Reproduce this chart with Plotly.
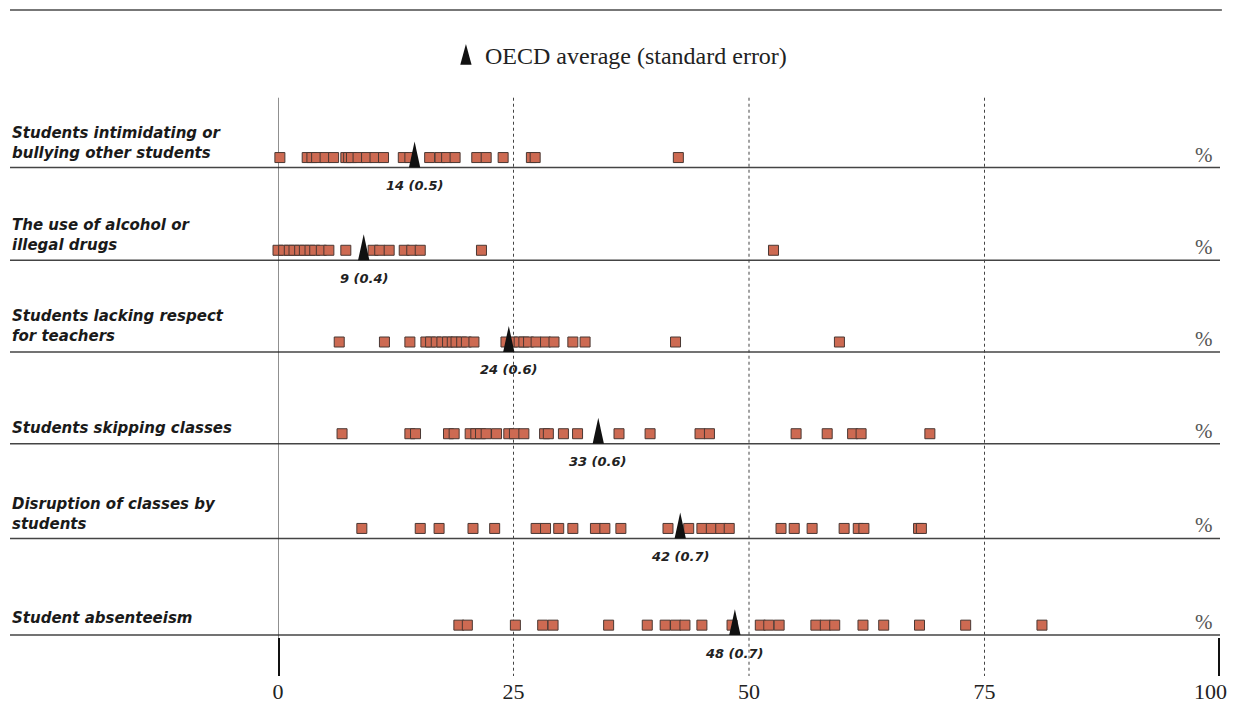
import plotly.graph_objects as go

# Share of students in schools whose principal reports the problem hinders learning
CATEGORIES = [
    "Students intimidating or<br>bullying other students",
    "The use of alcohol or<br>illegal drugs",
    "Students lacking respect<br>for teachers",
    "Students skipping classes",
    "Disruption of classes by<br>students",
    "Student absenteeism",
]

BULLYING = [0.2, 3.1, 3.6, 4.1, 5.0, 5.9, 7.2, 7.5, 7.8, 8.5, 9.4, 10.3, 11.2,
            13.3, 14.0, 16.1, 17.2, 17.9, 18.8, 21.1, 22.1, 23.9, 26.9, 27.3, 42.5]
DRUGS = [0.0, 0.6, 1.2, 1.7, 2.3, 2.8, 3.4, 3.9, 4.6, 5.4, 7.2, 10.1, 10.8,
         11.8, 13.4, 14.2, 15.1, 21.6, 52.6]
RESPECT = [6.5, 11.3, 14.0, 15.7, 16.2, 16.8, 17.4, 18.0, 18.5, 18.9, 19.5,
           20.0, 20.8, 24.2, 24.9, 25.6, 26.1, 26.6, 27.4, 28.4, 29.3, 31.3,
           32.6, 42.2, 59.6]
SKIPPING = [6.8, 14.0, 14.6, 18.1, 18.7, 20.4, 21.0, 21.5, 22.1, 23.2, 24.5,
            25.1, 26.1, 28.3, 28.7, 30.3, 31.8, 36.2, 39.5, 44.8, 45.8, 55.0,
            58.3, 61.0, 61.9, 69.2]
DISRUPTION = [8.9, 15.1, 17.1, 20.7, 23.0, 27.4, 28.4, 29.8, 31.3, 33.7, 34.7,
              36.4, 41.4, 43.6, 45.0, 46.0, 47.0, 47.9, 53.4, 54.8, 56.7, 60.1,
              61.6, 62.2, 68.0, 68.3]
ABSENTEEISM = [19.2, 20.1, 25.2, 28.1, 29.2, 35.1, 39.2, 41.1, 42.2, 43.2, 45.0,
               48.2, 51.2, 52.1, 53.2, 57.1, 58.1, 59.1, 62.1, 64.3, 68.1, 73.0,
               81.1]

SERIES = [BULLYING, DRUGS, RESPECT, SKIPPING, DISRUPTION, ABSENTEEISM]
OECD_AVG = [14.5, 9.1, 24.5, 34.0, 42.7, 48.5]
OECD_TEXT = ["14 (0.5)", "9 (0.4)", "24 (0.6)", "33 (0.6)", "42 (0.7)", "48 (0.7)"]
X_TICKS = [0, 25, 50, 75, 100]

# layout: y axis runs in page pixels (top = 0); the page body adds an 8px offset
ROW_LINE_Y = [168, 261, 353, 445, 540, 637]
LABEL_Y = [143, 236, 327, 429, 516, 620]
SQUARE_FILL = "#cd6a52"
SQUARE_EDGE = "#4a3833"
SERIF = "Liberation Serif"
SANS = "DejaVu Sans"
LEFT_EDGE = (10 - 278) / 942

fig = go.Figure()

for values, base in zip(SERIES, ROW_LINE_Y):
    fig.add_trace(go.Scatter(
        x=values, y=[base - 10] * len(values), mode="markers",
        marker=dict(symbol="square", size=10, color=SQUARE_FILL,
                    line=dict(color=SQUARE_EDGE, width=1)),
        cliponaxis=False, showlegend=False, hoverinfo="x",
    ))

# tall narrow triangles for the OECD average
for avg, base in zip(OECD_AVG, ROW_LINE_Y):
    fig.add_trace(go.Scatter(
        x=[avg - 0.6, avg, avg + 0.6, avg - 0.6],
        y=[base, base - 26, base, base],
        mode="lines", fill="toself", fillcolor="#111111",
        line=dict(width=0, color="#111111"),
        cliponaxis=False, showlegend=False, hoverinfo="skip",
    ))

shapes = []
# top rule
shapes.append(dict(type="line", xref="paper", yref="y", x0=LEFT_EDGE, x1=1.002,
                   y0=10, y1=10, line=dict(color="#777777", width=2)))
# row separators
for base in ROW_LINE_Y:
    shapes.append(dict(type="line", xref="paper", yref="y", x0=LEFT_EDGE, x1=1.0,
                       y0=base, y1=base, line=dict(color="#444444", width=1.5),
                       layer="below"))
# dotted guides
for t in X_TICKS[1:-1]:
    shapes.append(dict(type="line", xref="x", yref="y", x0=t, x1=t, y0=98, y1=680,
                       line=dict(color="#444444", width=1, dash="dot"), layer="below"))
# zero axis line
shapes.append(dict(type="line", xref="x", yref="y", x0=0, x1=0, y0=98, y1=640,
                   line=dict(color="#222222", width=1), layer="below"))
# thick end ticks
for t in (X_TICKS[0], X_TICKS[-1]):
    shapes.append(dict(type="line", xref="x", yref="y", x0=t, x1=t, y0=640, y1=678,
                       line=dict(color="#111111", width=4)))
# legend icon
shapes.append(dict(type="path", xref="x", yref="y",
                   path="M 19.35,65 L 19.95,44 L 20.55,65 Z",
                   fillcolor="#111111", line=dict(width=0)))

annotations = []
annotations.append(dict(x=(483 - 278) / 9.42, y=56, xref="x", yref="y",
                        text="OECD average (standard error)", showarrow=False,
                        xanchor="left", yanchor="middle",
                        font=dict(family=SERIF, size=24, color="#222222")))
for label, ly in zip(CATEGORIES, LABEL_Y):
    annotations.append(dict(x=LEFT_EDGE, y=ly, xref="paper", yref="y",
                            text="<b><i>" + label + "</i></b>", showarrow=False,
                            xanchor="left", yanchor="middle", align="left",
                            font=dict(family=SANS, size=15, color="#1a1a1a")))
for base in ROW_LINE_Y:
    annotations.append(dict(x=(1193 - 278) / 942, y=base - 13, xref="paper", yref="y",
                            text="%", showarrow=False, xanchor="left", yanchor="middle",
                            font=dict(family=SERIF, size=21, color="#555555")))
for avg, txt, base in zip(OECD_AVG, OECD_TEXT, ROW_LINE_Y):
    annotations.append(dict(x=avg, y=base + 18, xref="x", yref="y",
                            text="<b><i>" + txt + "</i></b>", showarrow=False,
                            xanchor="center", yanchor="middle",
                            font=dict(family=SANS, size=13, color="#222222")))
# last tick label sits near the right edge, as in the original
annotations.append(dict(x=1.0, y=0, xref="paper", yref="paper",
                        text=str(X_TICKS[-1]), showarrow=False,
                        xanchor="right", yanchor="middle", xshift=9, yshift=-15,
                        font=dict(family=SERIF, size=22, color="#222222")))

fig.update_layout(
    width=1229, height=696,
    margin=dict(l=270, r=17, t=0, b=26),
    paper_bgcolor="white", plot_bgcolor="white",
    shapes=shapes, annotations=annotations,
    showlegend=False,
)
fig.update_xaxes(range=[0, 100], tickvals=X_TICKS[:-1], ticks="", showgrid=False,
                 zeroline=False, showline=False,
                 tickfont=dict(family=SERIF, size=22, color="#222222"))
fig.update_yaxes(range=[678, 8], visible=False, showgrid=False, zeroline=False)

fig.write_html("out.html")
